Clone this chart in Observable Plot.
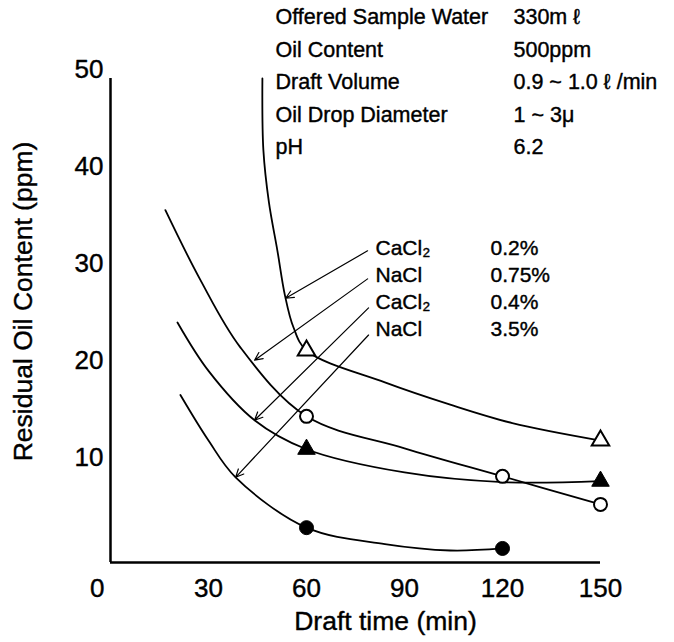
<!DOCTYPE html>
<html><head><meta charset="utf-8">
<script src="https://cdn.jsdelivr.net/npm/d3@7"></script>
<script src="https://cdn.jsdelivr.net/npm/@observablehq/plot@0.6"></script>
<style>html,body{margin:0;padding:0;background:#fff}#chart svg{display:block}</style>
</head><body><div id="chart"></div>
<script>
// ---------- values ----------
const xTicks = [0, 30, 60, 90, 120, 150];
const yTicks = [10, 20, 30, 40, 50];
const conditionNames = ["Offered Sample Water", "Oil Content", "Draft Volume", "Oil Drop Diameter", "pH"];
const conditionValues = ["330m ℓ", "500ppm", "0.9 ~ 1.0 ℓ /min", "1 ~ 3μ", "6.2"];
const seriesSalt = ["CaCl₂", "NaCl", "CaCl₂", "NaCl"];
const seriesConc = ["0.2%", "0.75%", "0.4%", "3.5%"];
// measured points (draft time, residual oil ppm)
const measuredTime = [[60, 150], [60, 120, 150], [60, 150], [60, 120]];
const measuredOil  = [[21.9, 12.6], [15.1, 8.9, 6.0], [11.7, 8.4], [3.6, 1.45]];
// hand-drawn fitted curves
const curveTime = [
  [46.5, 46.8, 48.5, 51.1, 53.4, 56, 60, 84, 104, 123, 150],
  [16.8, 27.5, 39.8, 60, 90, 120, 150],
  [20.5, 30, 44.1, 60, 90, 120, 150],
  [21.4, 30, 38.3, 60, 84, 104, 120]
];
const curveOil = [
  [50, 42.6, 37.2, 32.2, 27.6, 24.3, 21.9, 18.6, 16.3, 14.4, 12.6],
  [36.4, 29.2, 22.2, 15.1, 11.8, 8.9, 6.0],
  [24.8, 19.8, 14.7, 11.7, 9.3, 8.3, 8.4],
  [17.3, 12.6, 8.8, 3.6, 1.9, 1.24, 1.45]
];
// leader arrows from the legend labels to their curves
const leaderStartTime = [78.7, 78.7, 79, 79];
const leaderStartOil  = [32.2, 29.3, 26.3, 23.5];
const leaderEndTime   = [53.6, 44.1, 44.1, 38.3];
const leaderEndOil    = [27.3, 20.9, 14.7, 8.8];

// ---------- tables ----------
const curves = curveTime.flatMap((ts, s) => ts.map((t, i) => ({s, t, v: curveOil[s][i]})));
const points = measuredTime.flatMap((ts, s) => ts.map((t, i) => ({s, t, v: measuredOil[s][i]})));
const leaders = leaderStartTime.map((t, i) => ({x1: t, y1: leaderStartOil[i], x2: leaderEndTime[i], y2: leaderEndOil[i]}));

// ---------- layout ----------
const W = 674, H = 642;
const M = {top: 78, right: 74, bottom: 80, left: 110};
const font = "'Liberation Sans', Arial, Helvetica, sans-serif";
const ink = "#000";
const heavy = {stroke: ink, strokeWidth: 0.4};
const t = (txt, o) => Plot.text([txt], {text: d => d, lineAnchor: "middle", fill: ink, ...heavy, ...o});

const condMarks = conditionNames.flatMap((name, i) => [
  t(name, {frameAnchor: "top-left", dx: 165, dy: -61 + i * 32.5, textAnchor: "start", fontSize: 21.5}),
  t(conditionValues[i], {frameAnchor: "top-left", dx: 403, dy: -61 + i * 32.5, textAnchor: "start", fontSize: 21.5})
]);
const legendMarks = seriesSalt.flatMap((name, i) => [
  t(name, {frameAnchor: "top-left", dx: 265, dy: 170 + i * 27, textAnchor: "start", fontSize: 21}),
  t(seriesConc[i], {frameAnchor: "top-left", dx: 380, dy: 170 + i * 27, textAnchor: "start", fontSize: 21})
]);

const chart = Plot.plot({
  width: W, height: H,
  marginTop: M.top, marginRight: M.right, marginBottom: M.bottom, marginLeft: M.left,
  style: {fontFamily: font, background: "#fff", color: ink},
  x: {domain: [0, 150], axis: null},
  y: {domain: [0, 50], axis: null},
  marks: [
    Plot.ruleX([0], {y1: 0, y2: 50, stroke: ink, strokeWidth: 2.5}),
    Plot.ruleY([0], {x1: 0, x2: 150, stroke: ink, strokeWidth: 2.5}),
    Plot.line(curves, {x: "t", y: "v", z: "s", curve: "catmull-rom", stroke: ink, strokeWidth: 1.8}),
    Plot.arrow(leaders, {x1: "x1", y1: "y1", x2: "x2", y2: "y2", stroke: ink, strokeWidth: 1.2, headLength: 11, headAngle: 50}),
    Plot.dot(points.filter(d => d.s === 0), {x: "t", y: "v", symbol: "triangle", r: 6.5, fill: "#fff", stroke: ink, strokeWidth: 2}),
    Plot.dot(points.filter(d => d.s === 1), {x: "t", y: "v", symbol: "circle", r: 6.5, fill: "#fff", stroke: ink, strokeWidth: 2}),
    Plot.dot(points.filter(d => d.s === 2), {x: "t", y: "v", symbol: "triangle", r: 6.5, fill: ink, stroke: ink, strokeWidth: 1}),
    Plot.dot(points.filter(d => d.s === 3), {x: "t", y: "v", symbol: "circle", r: 7, fill: ink, stroke: ink, strokeWidth: 1}),
    // tick labels
    Plot.text(xTicks.filter(d => d !== 0), {x: d => d, text: d => String(d), frameAnchor: "bottom", lineAnchor: "middle", dy: 26, fontSize: 26, fill: ink, ...heavy}),
    Plot.text(xTicks.filter(d => d === 0), {x: d => d, text: d => String(d), frameAnchor: "bottom", lineAnchor: "middle", dy: 26, dx: -6, textAnchor: "end", fontSize: 26, fill: ink, ...heavy}),
    Plot.text(yTicks, {y: d => d, text: d => String(d), frameAnchor: "left", lineAnchor: "middle", dx: -7, dy: -8.5, textAnchor: "end", fontSize: 26, fill: ink, ...heavy}),
    // axis titles
    t("Draft time (min)", {frameAnchor: "bottom", textAnchor: "middle", dx: 30, dy: 59, fontSize: 26.5}),
    t("Residual Oil Content (ppm)", {frameAnchor: "left", textAnchor: "middle", dx: -87, dy: -19, rotate: -90, fontSize: 26.5}),
    ...condMarks,
    ...legendMarks
  ]
});
document.getElementById("chart").appendChild(chart);
</script>
</body></html>
